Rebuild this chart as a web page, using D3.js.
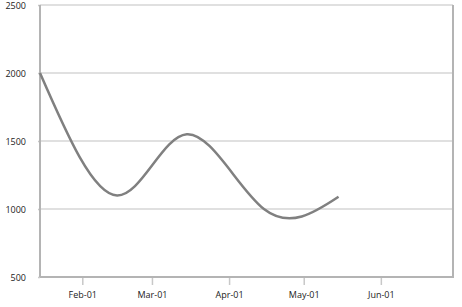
<!DOCTYPE html>
<html>
<head>
<meta charset="utf-8">
<script src="https://cdn.jsdelivr.net/npm/d3@7"></script>
<style>
  body { margin: 0; background: #fff; }
  text { font-family: "Open Sans", sans-serif; font-size: 9px; fill: #222; }
</style>
</head>
<body>
<div id="container"></div>
<script>
// data
var dates = ['2011-01-15', '2011-02-15', '2011-03-15', '2011-04-15', '2011-05-15'];
var values = [2000, 1100, 1550, 1000, 1090];
var yTicks = [500, 1000, 1500, 2000, 2500];
var xTicks = ['2011-02-01', '2011-03-01', '2011-04-01', '2011-05-01', '2011-06-01'];

var margin = {top: 5, right: 9, bottom: 30, left: 40},
    width = 462 - margin.left - margin.right,
    height = 307 - margin.top - margin.bottom;

var parseDate = d3.timeParse('%Y-%m-%d');
var fmt = d3.timeFormat('%b-%d');

var data = dates.map(function(d, i) { return {date: parseDate(d), value: values[i]}; });

var svg = d3.select('#container').append('svg')
    .attr('width', 462)
    .attr('height', 307)
  .append('g')
    .attr('transform', 'translate(' + margin.left + ',' + margin.top + ')');

var x = d3.scaleTime()
    .domain([parseDate('2011-01-15'), parseDate('2011-06-30')])
    .range([0, width]);

var y = d3.scaleLinear()
    .domain([500, 2500])
    .range([height, 0]);

// gridlines
svg.append('g')
  .selectAll('line')
  .data(yTicks.slice(1))
  .enter().append('line')
    .attr('x1', 0)
    .attr('x2', width)
    .attr('y1', function(d) { return y(d); })
    .attr('y2', function(d) { return y(d); })
    .attr('stroke', '#d6d6d6')
    .attr('stroke-width', 1.5);

// y axis
var yAxis = svg.append('g')
    .call(d3.axisLeft(y).tickValues(yTicks).tickSize(10).tickPadding(4).tickFormat(d3.format('d')));
yAxis.select('.domain').remove();
yAxis.selectAll('.tick line').attr('stroke', '#c8c8c8').attr('stroke-width', 1.5).attr('x2', -2);
yAxis.selectAll('text').attr('dy', '0.35em');

// x axis
var xAxis = svg.append('g')
    .attr('transform', 'translate(0,' + height + ')')
    .call(d3.axisBottom(x).tickValues(xTicks.map(parseDate)).tickSize(8).tickPadding(7).tickFormat(fmt));
xAxis.select('.domain').remove();
xAxis.selectAll('.tick line').attr('stroke', '#c8c8c8').attr('stroke-width', 1.5);

// plot frame
svg.append('line').attr('x1', 0).attr('x2', 0).attr('y1', 0).attr('y2', height)
    .attr('stroke', '#b4b4b4').attr('stroke-width', 2);
svg.append('line').attr('x1', 0).attr('x2', width).attr('y1', height).attr('y2', height)
    .attr('stroke', '#b4b4b4').attr('stroke-width', 2);
svg.append('line').attr('x1', width).attr('x2', width).attr('y1', 0).attr('y2', height + 1)
    .attr('stroke', '#b4b4b4').attr('stroke-width', 2);

// spline
var line = d3.line()
    .curve(d3.curveNatural)
    .x(function(d) { return x(d.date); })
    .y(function(d) { return y(d.value); });

svg.append('path')
    .datum(data)
    .attr('fill', 'none')
    .attr('stroke', '#808080')
    .attr('stroke-width', 2.5)
    .attr('d', line);
</script>
</body>
</html>
